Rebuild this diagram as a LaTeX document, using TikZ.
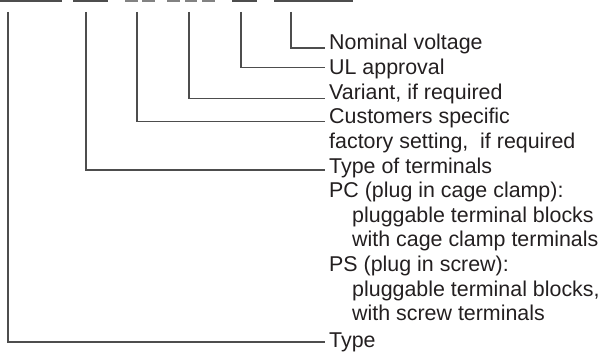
\documentclass[tikz,border=0pt]{standalone}
\usepackage{fontspec}
\setmainfont{Liberation Sans}
\definecolor{ink}{HTML}{231F20}
\definecolor{rule}{HTML}{4D4D4D}
\tikzset{
  lbl/.style={anchor=base west, inner sep=0pt, text=ink, font=\fontsize{21.4}{24.6}\selectfont},
  lead/.style={draw=rule, line width=1.1pt},
  bar/.style={draw=rule, line width=2pt}
}

\begin{document}
\begin{tikzpicture}[x=1pt,y=-1pt]
\useasboundingbox (0,0) rectangle (599,361);

% order code fields
\draw[bar] (0,1) -- (62,1);
\draw[bar] (73,1) -- (108,1);
\draw[bar, draw=rule!70] (125,1) -- (138,1);
\draw[bar, draw=rule!70] (142,1) -- (155,1);
\draw[bar, draw=rule!70] (167,1) -- (180,1);
\draw[bar, draw=rule!70] (185,1) -- (197,1);
\draw[bar, draw=rule!70] (202,1) -- (215,1);
\draw[bar] (232,1) -- (257,1);
\draw[bar] (274,1) -- (353,1);

% start of leads
\coordinate (cType) at (8,12);
\coordinate (cTerm) at (86,12);
\coordinate (cCust) at (137,12);
\coordinate (cVar) at (189,12);
\coordinate (cUL) at (241,12);
\coordinate (cNom) at (291,12);

% texts
\node[lbl] (nom) at (329,50) {Nominal voltage};
\node[lbl] (ul) at (329,74.6) {UL approval};
\node[lbl] (var) at (329,99.2) {Variant, if required};
\node[lbl] (cust) at (329,123.8) {Customers specific};
\node[lbl] (cust2) at (329,148.4) {factory setting,\ \ if required};
\node[lbl] (term) at (329,173) {Type of terminals};
\node[lbl] (pc) at (329,197.6) {PC (plug in cage clamp):};
\node[lbl] (pc1) at (352,222.2) {pluggable terminal blocks};
\node[lbl] (pc2) at (352,246.8) {with cage clamp terminals};
\node[lbl] (ps) at (329,271.4) {PS (plug in screw):};
\node[lbl] (ps1) at (352,296) {pluggable terminal blocks,};
\node[lbl] (ps2) at (352,320.6) {with screw terminals};
\node[lbl] (type) at (329,347) {Type};

% leads
\draw[lead] (cNom) |- ([shift={(-4pt,2pt)}]nom.base west);
\draw[lead] (cUL) |- ([shift={(-4pt,7pt)}]ul.base west);
\draw[lead] (cVar) |- ([shift={(-4pt,1pt)}]var.base west);
\draw[lead] (cCust) |- ([shift={(-4pt,2pt)}]cust.base west);
\draw[lead] (cTerm) |- ([shift={(-4pt,3pt)}]term.base west);
\draw[lead] (cType) |- ([shift={(-4pt,5pt)}]type.base west);

\end{tikzpicture}
\end{document}
